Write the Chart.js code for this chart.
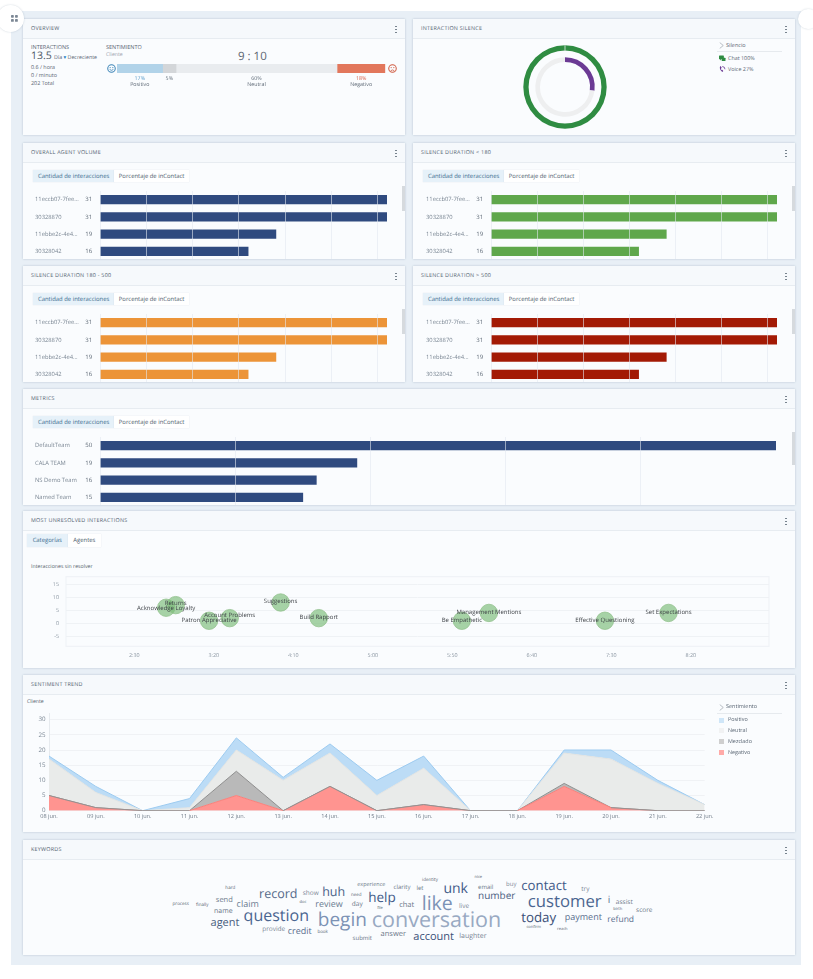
<!DOCTYPE html>
<html>
<head>
<meta charset="utf-8">
<script src="https://cdn.jsdelivr.net/npm/chart.js@4"></script>
<style>
	html, body { margin: 0; padding: 0; background: #fff; }
	body { width: 813px; height: 979px; overflow: hidden; position: relative; font-family: "Open Sans", sans-serif; color: #5a6674; text-rendering: geometricPrecision; }
	#board { position: absolute; left: 11px; top: 11px; width: 790px; height: 954px; background: #e8eff6; }
	.card { position: absolute; background: #fafcfe; box-shadow: 0 0 2px rgba(90, 115, 140, .35); overflow: hidden; }
	.head { position: absolute; left: 0; top: 0; right: 0; height: 18.5px; background: #f6f9fc; border-bottom: 1px solid #e7ecf1; }
	.title { position: absolute; left: 8px; top: 6px; font-size: 5.4px; line-height: 7px; font-weight: 500; letter-spacing: .25px; color: #525f70; white-space: nowrap; }
	.dot { position: absolute; width: 1.6px; height: 1.6px; border-radius: 50%; background: #66727f; }
	.txt { position: absolute; white-space: nowrap; line-height: 1; }
	.tab { position: absolute; font-size: 5.9px; line-height: 12.3px; text-align: center; white-space: nowrap; color: #4c5c6c; background: #fff; box-shadow: 0 0 1px rgba(90, 115, 140, .2); }
	.tab.on { background: #e6f1f9; color: #3c6c8e; }
	.thumb { position: absolute; width: 3.5px; background: #d6dade; }
	.rule { position: absolute; height: 1px; background: #e6eaee; }
	.badge { position: absolute; border-radius: 50%; background: #fff; box-shadow: 0 0 2px rgba(90, 115, 140, .3); }
	.word { position: absolute; white-space: nowrap; line-height: 1; transform: translate(-50%, -50%); }
	canvas { position: absolute; display: block; }
	svg { position: absolute; }
</style>
</head>
<body>
<div id="board"></div>
<script>
const agentNames = ["11eccb07-7fee...", "30328870", "11ebbe2c-4e4...", "30328042"];
const agentValues = [31, 31, 19, 16];
const teamNames = ["DefaultTeam", "CALA TEAM", "NS Demo Team", "Named Team"];
const teamValues = [50, 19, 16, 15];

const sentimentNames = ["Positivo", "", "Neutral", "Negativo"];
const sentimentShares = [17, 5, 60, 18];

const chatSilence = [100];
const voiceSilence = [27, 73];

const unresolvedNames = ["Acknowledge Loyalty", "Returns", "Patron Appreciative", "Account Problems", "Suggestions", "Build Rapport", "Be Empathetic", "Management Mentions", "Effective Questioning", "Set Expectations"];
const unresolvedSeconds = [170, 176, 197, 210, 242, 266, 356, 373, 446, 486];
const unresolvedCounts = [6, 7, 1, 2, 8, 2, 1, 4, 1, 4];
const unresolvedTickSeconds = [150, 200, 250, 300, 350, 400, 450, 500];
const unresolvedTickLabels = ["2:30", "3:20", "4:10", "5:00", "5:50", "6:40", "7:30", "8:20"];
const unresolvedYTicks = [-5, 0, 5, 10, 15];

const trendDates = ["08 jun.", "09 jun.", "10 jun.", "11 jun.", "12 jun.", "13 jun.", "14 jun.", "15 jun.", "16 jun.", "17 jun.", "18 jun.", "19 jun.", "20 jun.", "21 jun.", "22 jun."];
const trendNegative = [5, 1, 0, 0, 5, 0, 8, 0, 2, 0, 0, 8, 1, 0, 0];
const trendMixed = [0, 0, 0, 0, 8, 0, 0, 0, 0, 0, 0, 1, 0, 0, 0];
const trendNeutral = [12, 5, 0, 1, 7, 10, 11, 5, 12, 0, 0, 10, 16, 9, 2];
const trendPositive = [1, 2, 0, 3, 4, 1, 3, 5, 4, 0, 0, 1, 3, 1, 0];
const trendYTicks = [0, 5, 10, 15, 20, 25, 30];

const keywordWords = ["process", "finally", "hard", "send", "name", "agent", "claim", "record", "show", "huh", "review", "question", "begin", "conversation", "experience", "clarity", "need", "doc", "day", "file", "help", "chat", "like", "let", "identity", "unk", "live", "number", "email", "nice", "buy", "contact", "customer", "today", "payment", "try", "i", "assist", "score", "refund", "birth", "confirm", "reach", "account", "laughter", "answer", "submit", "book", "credit", "provide"];
// centre x, centre y, font size, colour for each word above
const keywordLayout = [
	[180.7, 903.7, 4.5, "#555f6e"], [202.3, 905.3, 4.5, "#555f6e"], [230.3, 888.3, 4.5, "#555f6e"], [224.3, 901, 7.5, "#6b7888"], [223.3, 911, 7, "#6b7888"],
	[225, 922.3, 11, "#4a5f80"], [247.7, 902.7, 9, "#6b7c92"], [278.3, 894, 12.5, "#556a8a"], [310.7, 892.7, 6.5, "#7b8796"], [333.7, 892, 12.5, "#4a6288"],
	[329, 903, 9, "#6b7c92"], [276.3, 915, 16, "#4a6590"], [342.3, 919.3, 19, "#7c92b5"], [436.5, 920, 21.5, "#98a9c2"], [371.3, 884.7, 5.5, "#6b7888"],
	[402, 887.3, 6, "#6b7888"], [356.3, 895.3, 4.5, "#555f6e"], [303, 902.7, 4, "#555f6e"], [357.3, 904, 6.5, "#6b7888"], [380, 908.7, 4, "#555f6e"],
	[382, 898.3, 13.5, "#3f5a88"], [406.7, 905.7, 7.5, "#6b7888"], [437.3, 903.3, 19.5, "#7c92b5"], [420, 888.3, 6, "#6b7888"], [430, 880, 4.5, "#555f6e"],
	[455.7, 889, 14, "#3f5a88"], [464, 906, 6.5, "#7b8796"], [496.7, 895.3, 10, "#4a6080"], [485.7, 886.7, 6, "#6b7888"], [478.3, 877.7, 4, "#555f6e"],
	[511.3, 883.7, 6, "#7b8796"], [544, 886, 13.2, "#3f5a88"], [564.7, 901, 16.7, "#4a6590"], [538.7, 918, 13.3, "#3a5078"], [583.3, 915.7, 9, "#5b6f8f"],
	[585.3, 889.3, 6.5, "#7b8796"], [609, 898.7, 10, "#5b6f8f"], [624.3, 902.3, 6.5, "#6b7888"], [644.3, 909.7, 6.5, "#6b7888"], [620.7, 920.3, 8.5, "#5b6f8f"],
	[617.7, 910, 4, "#555f6e"], [533.7, 927.7, 4, "#555f6e"], [562.3, 930.3, 4, "#555f6e"], [433.7, 936.3, 11, "#3a5078"], [473, 936.3, 7, "#7b8796"],
	[393.3, 934.7, 7.5, "#6b7888"], [362.3, 937.7, 6, "#6b7888"], [322.7, 932, 4.5, "#555f6e"], [299.7, 930, 9, "#5b6f8f"], [273.7, 928.7, 6.5, "#7b8796"],
];
// how far each bubble name sits above its bubble
const unresolvedNameLift = [-1, 1.5, 0, 3, 1, 1, 0, 1, 0.7, 1];

Chart.defaults.font.family = '"Open Sans", sans-serif';
Chart.defaults.animation = false;
Chart.defaults.plugins.legend.display = false;
Chart.defaults.plugins.tooltip.enabled = false;

// small canvas text needs fractional glyph advances, same as the html text
Chart.register({
	id: "preciseText",
	beforeDraw(chart) {
		chart.ctx.textRendering = "geometricPrecision";
	},
});

// the axes must not add half a label of padding to the fixed plot areas
function noScalePadding(scale) {
	scale.paddingTop = 0;
	scale.paddingBottom = 0;
	scale.paddingLeft = 0;
	scale.paddingRight = 0;
}

const board = document.getElementById("board");

function addCard(x, y, w, h, title) {
	const card = document.createElement("div");
	card.className = "card";
	card.style.cssText = `left:${x - 11}px;top:${y - 11}px;width:${w}px;height:${h}px`;
	card.originX = x;
	card.originY = y;
	if (title) {
		card.innerHTML = `<div class="head"></div><div class="title">${title}</div>`;
		[7, 10, 13].forEach((dy) => {
			const dot = document.createElement("div");
			dot.className = "dot";
			dot.style.cssText = `left:${w - 10}px;top:${dy - .5}px`;
			card.appendChild(dot);
		});
	}
	board.appendChild(card);
	return card;
}

function place(card, html, x, y, style) {
	const el = document.createElement("div");
	el.className = "txt";
	el.style.cssText = `left:${x - card.originX}px;top:${y - card.originY}px;${style || ""}`;
	el.innerHTML = html;
	card.appendChild(el);
	return el;
}

function addCanvas(card, x, y, w, h) {
	const canvas = document.createElement("canvas");
	canvas.width = w;
	canvas.height = h;
	canvas.style.cssText = `left:${x - card.originX}px;top:${y - card.originY}px;width:${w}px;height:${h}px`;
	card.appendChild(canvas);
	return canvas;
}

function addTabs(card, x, y, names, widths) {
	let left = x;
	names.forEach((name, i) => {
		const tab = document.createElement("div");
		tab.className = i === 0 ? "tab on" : "tab";
		tab.style.cssText = `left:${left - card.originX}px;top:${y - card.originY}px;width:${widths[i]}px;height:12.3px`;
		tab.textContent = name;
		card.appendChild(tab);
		left += widths[i];
	});
}

function addThumb(card, x, y, h) {
	const thumb = document.createElement("div");
	thumb.className = "thumb";
	thumb.style.cssText = `left:${x - card.originX}px;top:${y - card.originY}px;height:${h}px`;
	card.appendChild(thumb);
}

function addRule(card, x, y, w) {
	const rule = document.createElement("div");
	rule.className = "rule";
	rule.style.cssText = `left:${x - card.originX}px;top:${y - card.originY}px;width:${w}px`;
	card.appendChild(rule);
}

function addSvg(card, x, y, size, inner) {
	const holder = document.createElement("div");
	holder.innerHTML = `<svg viewBox="0 0 12 12" width="${size}" height="${size}" style="left:${x - card.originX}px;top:${y - card.originY}px">${inner}</svg>`;
	card.appendChild(holder.firstChild);
}

function addChevron(card, x, y) {
	addSvg(card, x, y, 7, '<path d="M3 1 L9 6 L3 11" fill="none" stroke="#8a939c" stroke-width="1"/>');
}

// value printed between the name and the start of each bar
const barValuePlugin = {
	id: "barValue",
	afterDatasetsDraw(chart) {
		const ctx = chart.ctx;
		ctx.save();
		ctx.font = '6px "Open Sans"';
		ctx.fillStyle = "#5d6875";
		ctx.textAlign = "center";
		ctx.textBaseline = "middle";
		chart.getDatasetMeta(0).data.forEach((bar, i) => {
			ctx.fillText(chart.data.datasets[0].data[i], chart.chartArea.left - 11.3, bar.y);
		});
		ctx.restore();
	},
};

function barPanel(title, x, y, w, barX, barW, names, values, color, xMax, xStep, thumbH) {
	const card = addCard(x, y, w, 115.5, title);
	addTabs(card, x + 10.3, y + 27, ["Cantidad de interacciones", "Porcentaje de inContact"], [80.7, 75.3]);
	addThumb(card, x + w - 3.5, y + 43, thumbH);
	const canvas = addCanvas(card, barX - 65, y + 48, barW + 65, 69);
	new Chart(canvas, {
		type: "bar",
		data: {
			labels: names,
			datasets: [{ data: values, backgroundColor: color, barThickness: 8.8 }],
		},
		options: {
			responsive: false,
			indexAxis: "y",
			layout: { padding: 0 },
			scales: {
				x: {
					min: 0,
					max: xMax,
					ticks: { display: false, stepSize: xStep, includeBounds: false },
					border: { display: false },
					grid: { color: "rgba(226, 232, 240, 0.75)", lineWidth: 0.8, drawTicks: false, z: 1 },
					afterFit(scale) {
						scale.height = 0;
						noScalePadding(scale);
					},
				},
				y: {
					afterFit(scale) {
						scale.width = 65;
						noScalePadding(scale);
					},
					border: { display: false },
					grid: { display: false },
					ticks: { crossAlign: "far", padding: 0, color: "#7b8794", font: { size: 5.8 } },
				},
			},
		},
		plugins: [barValuePlugin],
	});
}

// ---- overview
const overview = addCard(23, 19, 382, 116, "OVERVIEW");
place(overview, "INTERACTIONS", 31, 44.5, "font-size:5.5px");
place(overview, "13.5", 31, 51, "font-size:10.5px;color:#4a5663");
place(overview, 'Día <span style="color:#1c7fc4">▾</span> Decreciente', 54, 55, "font-size:5.3px");
place(overview, "0.6 / hora", 31, 64.5, "font-size:5.4px");
place(overview, "0 / minuto", 31, 73, "font-size:5.4px");
place(overview, "202 Total", 31, 81, "font-size:5.4px");
place(overview, "SENTIMIENTO", 106, 44.5, "font-size:5.5px");
place(overview, "Cliente", 106, 52, "font-size:5.2px;color:#9aa3ad");
place(overview, "9 : 10", 238, 50.5, "font-size:11.5px;font-weight:500;color:#5a6571");
const face = (color, mouth) => `<circle cx="6" cy="6" r="5" fill="none" stroke="${color}" stroke-width="1.4"/><circle cx="4.2" cy="4.8" r=".8" fill="${color}"/><circle cx="7.8" cy="4.8" r=".8" fill="${color}"/><path d="${mouth}" fill="none" stroke="${color}" stroke-width="1.1"/>`;
addSvg(overview, 106.5, 63.5, 9, face("#3f86b8", "M3.5 7.3 Q6 9.6 8.5 7.3"));
addSvg(overview, 388, 63.5, 9, face("#d05c43", "M3.5 9 Q6 6.8 8.5 9"));

const shareColors = ["#b1d3e9", "#d3d6d9", "#e9ecef", "#e2775c"];
const shareTextColors = ["#5b9ccb", "#66727e", "#66727e", "#d9604a"];
const shareLabelPlugin = {
	id: "shareLabel",
	afterDatasetsDraw(chart) {
		const ctx = chart.ctx;
		ctx.save();
		ctx.font = '5.3px "Open Sans"';
		ctx.textAlign = "center";
		ctx.textBaseline = "middle";
		chart.data.datasets.forEach((set, i) => {
			const bar = chart.getDatasetMeta(i).data[0];
			const cx = (bar.x + bar.base) / 2;
			ctx.fillStyle = shareTextColors[i];
			ctx.fillText(set.data[0] + "%", cx, 14);
			ctx.fillStyle = "#5d6875";
			ctx.fillText(sentimentNames[i], cx, 20);
		});
		ctx.restore();
	},
};
new Chart(addCanvas(overview, 117, 64, 269, 26), {
	type: "bar",
	data: {
		labels: ["Cliente"],
		datasets: sentimentShares.map((share, i) => ({
			data: [share],
			backgroundColor: shareColors[i],
			barPercentage: 1,
			categoryPercentage: 1,
		})),
	},
	options: {
		responsive: false,
		indexAxis: "y",
		layout: { padding: { bottom: 17, right: 0.7 } },
		scales: {
			x: { display: false, stacked: true, min: 0, max: 100 },
			y: { display: false, stacked: true },
		},
	},
	plugins: [shareLabelPlugin],
});

// ---- interaction silence
const silence = addCard(413, 19, 382, 116, "INTERACTION SILENCE");
// small seam where the full green ring closes at the top
const ringSeamPlugin = {
	id: "ringSeam",
	afterDatasetsDraw(chart) {
		const arc = chart.getDatasetMeta(0).data[0];
		chart.ctx.save();
		chart.ctx.fillStyle = "#e4eee6";
		chart.ctx.fillRect(arc.x - 0.4, arc.y - arc.outerRadius, 0.8, arc.outerRadius - arc.innerRadius);
		chart.ctx.restore();
	},
};
new Chart(addCanvas(silence, 515, 37, 100, 100), {
	type: "doughnut",
	data: {
		labels: ["Chat", "Voice"],
		datasets: [
			{ data: chatSilence, backgroundColor: ["#2f8c42"], borderWidth: 0, weight: 3.7 },
			{ data: [1], backgroundColor: ["rgba(0,0,0,0)"], borderWidth: 0, weight: 4.7 },
			{ data: voiceSilence, backgroundColor: ["#6b3a94", "#eeeff0"], borderWidth: 0, weight: 3.3 },
		],
	},
	options: {
		responsive: false,
		radius: 41.7,
		cutout: 30,
	},
	plugins: [ringSeamPlugin],
});
addChevron(silence, 718, 41.5);
place(silence, "Silencio", 726, 42.5, "font-size:5.5px");
addRule(silence, 717, 51, 65);
addSvg(silence, 719, 55, 6.5, '<path d="M1 1h7a1 1 0 0 1 1 1v5a1 1 0 0 1-1 1H4l-2 2V8H1a1 1 0 0 1-1-1V2a1 1 0 0 1 1-1z" fill="#2f8c42"/><rect x="5" y="5" width="7" height="6" rx="1" fill="#2f8c42"/>');
place(silence, "Chat 100%", 728, 55.5, "font-size:5.4px");
addSvg(silence, 719, 66, 6.5, '<path d="M2 1 Q0 6 6 11 L8 9 L6 7 L5 8 Q3 6 4 4 L5 3 L3 0z" fill="#6b3a94"/><path d="M6 1a5 5 0 0 1 5 5" fill="none" stroke="#6b3a94" stroke-width="1.5"/>');
place(silence, "Voice 27%", 728, 66.5, "font-size:5.4px");

// ---- bar panels
barPanel("OVERALL AGENT VOLUME", 23, 143, 382, 100, 287, agentNames, agentValues, "#2f4a7f", 31, 5, 25);
barPanel("SILENCE DURATION &lt; 180", 413, 143, 382, 491, 286, agentNames, agentValues, "#5fa74b", 31, 5, 25);
barPanel("SILENCE DURATION 180 - 500", 23, 266, 382, 100, 287, agentNames, agentValues, "#ec9438", 31, 5, 25);
barPanel("SILENCE DURATION &gt; 500", 413, 266, 382, 491, 286, agentNames, agentValues, "#a31a05", 31, 5, 25);
barPanel("METRICS", 23, 389, 772, 100, 676, teamNames, teamValues, "#2f4a7f", 50, 10, 33);

// ---- most unresolved
const unresolved = addCard(23, 511, 772, 157, "MOST UNRESOLVED INTERACTIONS");
addTabs(unresolved, 26.7, 534.3, ["Categorías", "Agentes"], [41, 33.3]);
place(unresolved, "Interacciones sin resolver", 31, 563.5, "font-size:5.2px;color:#555f6b");

const bubbleNamePlugin = {
	id: "bubbleName",
	beforeDatasetsDraw(chart) {
		const { ctx, chartArea } = chart;
		ctx.save();
		ctx.strokeStyle = "#eef1f5";
		ctx.lineWidth = 1;
		ctx.strokeRect(chartArea.left, chartArea.top, chartArea.right - chartArea.left, chartArea.bottom - chartArea.top);
		ctx.restore();
	},
	afterDatasetsDraw(chart) {
		const ctx = chart.ctx;
		ctx.save();
		ctx.font = '6px "Open Sans"';
		ctx.fillStyle = "#3b3f44";
		ctx.textAlign = "center";
		ctx.textBaseline = "middle";
		chart.getDatasetMeta(0).data.forEach((point, i) => {
			ctx.fillText(unresolvedNames[i], point.x, point.y - unresolvedNameLift[i]);
		});
		ctx.restore();
	},
};
// bubbles reserve at least their own radius around the plot, so the canvas starts higher
new Chart(addCanvas(unresolved, 31, 566, 749, 99), {
	type: "bubble",
	data: {
		datasets: [{
			data: unresolvedSeconds.map((sec, i) => ({ x: sec, y: unresolvedCounts[i] })),
			radius: 8.7,
			backgroundColor: "rgba(122, 188, 118, 0.65)",
			borderColor: "#93c18e",
			borderWidth: 0.8,
		}],
	},
	options: {
		responsive: false,
		layout: { padding: { top: 10.7, right: 11, left: 0, bottom: 0 } },
		scales: {
			x: {
				type: "linear",
				min: 107,
				max: 549.2,
				grid: { display: false, drawTicks: false },
				border: { display: false },
				afterBuildTicks(scale) { scale.ticks = unresolvedTickSeconds.map((v) => ({ value: v })); },
				afterFit(scale) {
					scale.height = 18.7;
					noScalePadding(scale);
				},
				ticks: {
					autoSkip: false,
					maxRotation: 0,
					padding: 5.5,
					color: "#8d98a4",
					font: { size: 5.4 },
					callback: (value, i) => unresolvedTickLabels[i],
				},
			},
			y: {
				min: -8.8,
				max: 17.9,
				border: { display: false },
				grid: { color: "#eff2f5", drawTicks: false },
				afterBuildTicks(scale) { scale.ticks = unresolvedYTicks.map((v) => ({ value: v })); },
				afterFit(scale) {
					scale.width = 35;
					noScalePadding(scale);
				},
				ticks: { padding: 7, color: "#8d98a4", font: { size: 5.4 } },
			},
		},
	},
	plugins: [bubbleNamePlugin],
});

// ---- sentiment trend
const trend = addCard(23, 675, 772, 157, "SENTIMENT TREND");
place(trend, "Cliente", 27, 699, "font-size:5.2px;color:#555f6b");
const trendSeries = [
	{ name: "Negativo", values: trendNegative, fill: "#ff9490", line: "#f9807b", swatch: "#ffaaa8" },
	{ name: "Mezclado", values: trendMixed, fill: "#b9b9b9", line: "#8f8f8f", swatch: "#cfcfcf" },
	{ name: "Neutral", values: trendNeutral, fill: "#e9ebea", line: "#e2e4e3", swatch: "#f1f2f3" },
	{ name: "Positivo", values: trendPositive, fill: "#bcdcf6", line: "#9dcbf0", swatch: "#cfe6f8" },
];
new Chart(addCanvas(trend, 20, 708, 702, 117), {
	type: "line",
	data: {
		labels: trendDates,
		datasets: trendSeries.map((s, i) => ({
			label: s.name,
			data: s.values,
			fill: i === 0 ? "origin" : "-1",
			backgroundColor: s.fill,
			borderColor: s.line,
			borderWidth: 1,
			pointRadius: 0,
			tension: 0,
			segment: i === 0 ? {
				// the grey series lies on top of the red one wherever it is empty
				borderColor: (seg) => (trendMixed[seg.p0DataIndex] === 0 && trendMixed[seg.p1DataIndex] === 0 ? "#9a8f8f" : s.line),
			} : undefined,
		})),
	},
	options: {
		responsive: false,
		layout: { padding: { top: 5.6, right: 17.3, left: 0, bottom: 0 } },
		scales: {
			x: {
				grid: { display: false, drawTicks: false },
				border: { display: false },
				afterFit(scale) {
					scale.height = 14.3;
					noScalePadding(scale);
				},
				ticks: { autoSkip: false, maxRotation: 0, padding: 2.5, color: "#6f7b88", font: { size: 5.6 } },
			},
			y: {
				stacked: true,
				min: 0,
				max: 32,
				border: { color: "#e6eaee" },
				grid: { color: "#f0f2f5", drawTicks: false },
				afterBuildTicks(scale) { scale.ticks = trendYTicks.map((v) => ({ value: v })); },
				afterFit(scale) {
					scale.width = 29;
					noScalePadding(scale);
				},
				ticks: { padding: 3.5, color: "#7b8794", font: { size: 6.2 } },
			},
		},
	},
});
addChevron(trend, 718, 703.5);
place(trend, "Sentimiento", 726, 704, "font-size:5.5px");
addRule(trend, 717, 713, 65);
[...trendSeries].reverse().forEach((s, i) => {
	const top = 717.5 + i * 10.85;
	place(trend, "", 719, top, `width:5px;height:5px;background:${s.swatch}`);
	place(trend, s.name, 728, top - 0.2, "font-size:5.4px");
});

// ---- keywords
const keywordsCard = addCard(23, 840, 772, 115, "KEYWORDS");
keywordWords.forEach((word, i) => {
	const [cx, cy, size, color] = keywordLayout[i];
	const el = document.createElement("div");
	el.className = "word";
	el.style.cssText = `left:${cx - 23}px;top:${cy - 840}px;font-size:${size}px;color:${color}`;
	el.textContent = word;
	keywordsCard.appendChild(el);
});

// ---- corner handles
[[10, 18, 13.5], [808, 19, 10]].forEach(([cx, cy, r]) => {
	const badge = document.createElement("div");
	badge.className = "badge";
	badge.style.cssText = `left:${cx - r - 11}px;top:${cy - r - 11}px;width:${r * 2}px;height:${r * 2}px`;
	board.appendChild(badge);
});
const handle = document.createElement("div");
handle.style.cssText = "position:absolute;left:0;top:0;width:40px;height:40px";
handle.innerHTML = '<svg viewBox="0 0 8 8" width="7" height="7" style="left:0;top:3.5px"><rect x="0" y="0" width="3.2" height="3.2" rx=".8" fill="#7b8794"/><rect x="4.6" y="0" width="3.2" height="3.2" rx=".8" fill="#7b8794"/><rect x="0" y="4.6" width="3.2" height="3.2" rx=".8" fill="#7b8794"/><rect x="4.6" y="4.6" width="3.2" height="3.2" rx=".8" fill="#7b8794"/></svg>';
board.appendChild(handle);
</script>
</body>
</html>
